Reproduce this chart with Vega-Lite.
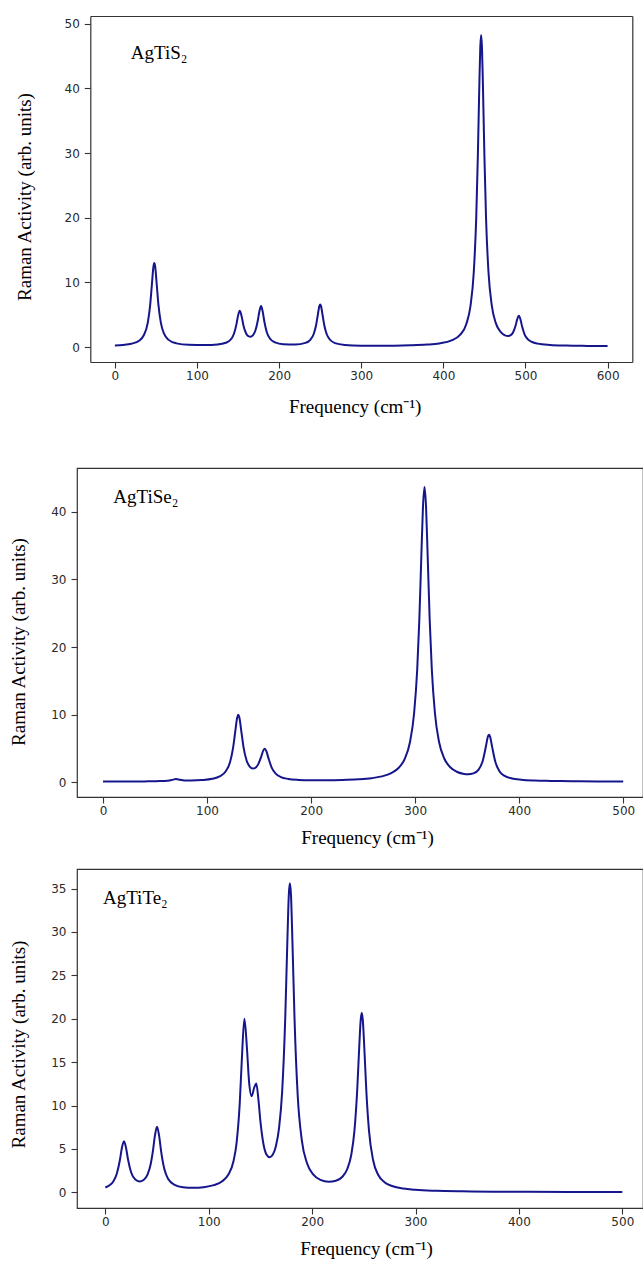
{
  "$schema": "https://vega.github.io/schema/vega-lite/v6.json",
  "background": "white",
  "padding": {"left": 8, "top": 16, "right": 0, "bottom": 0},
  "config": {
    "view": {"stroke": "#333333", "strokeWidth": 1.2},
    "axis": {
      "domain": false, "grid": false,
      "tickColor": "#333333", "tickSize": 6, "tickWidth": 1.1,
      "labelFont": "DejaVu Sans", "labelFontSize": 12, "labelColor": "#2a2a2a", "labelFlush": false,
      "titleFont": "Liberation Serif", "titleFontSize": 19, "titleFontWeight": "normal", "titleColor": "#000000"
    },
    "axisX": {"labelPadding": 2},
    "axisY": {"labelPadding": 5}
  },
  "datasets": {
    "s": [
      {"x":0,"y":0.26},{"x":10,"y":0.34},{"x":20,"y":0.52},{"x":30,"y":1.04},{"x":35,"y":1.79},{"x":40,"y":3.74},{"x":43,"y":6.57},{"x":45,"y":9.6},{"x":47,"y":12.52},{"x":48,"y":13.02},{"x":49,"y":12.52},{"x":51,"y":9.6},{"x":53,"y":6.57},{"x":56,"y":3.75},{"x":60,"y":2.03},{"x":65,"y":1.16},{"x":75,"y":0.58},{"x":90,"y":0.35},{"x":110,"y":0.31},{"x":125,"y":0.4},{"x":135,"y":0.67},{"x":140,"y":1.04},{"x":145,"y":2.07},{"x":148,"y":3.52},{"x":150,"y":4.87},{"x":152,"y":5.62},{"x":154,"y":4.94},{"x":157,"y":3.11},{"x":160,"y":2.06},{"x":163,"y":1.66},{"x":165,"y":1.61},{"x":168,"y":1.83},{"x":171,"y":2.53},{"x":174,"y":4.08},{"x":176,"y":5.55},{"x":178,"y":6.35},{"x":180,"y":5.49},{"x":182,"y":3.96},{"x":185,"y":2.31},{"x":189,"y":1.29},{"x":195,"y":0.73},{"x":205,"y":0.46},{"x":220,"y":0.42},{"x":232,"y":0.66},{"x":238,"y":1.14},{"x":242,"y":1.99},{"x":245,"y":3.39},{"x":247,"y":4.89},{"x":249,"y":6.34},{"x":250,"y":6.59},{"x":251,"y":6.34},{"x":253,"y":4.89},{"x":255,"y":3.39},{"x":258,"y":1.99},{"x":262,"y":1.14},{"x":268,"y":0.62},{"x":280,"y":0.34},{"x":300,"y":0.23},{"x":320,"y":0.22},{"x":340,"y":0.23},{"x":360,"y":0.28},{"x":380,"y":0.39},{"x":395,"y":0.57},{"x":410,"y":1.03},{"x":420,"y":1.84},{"x":428,"y":3.57},{"x":433,"y":6.33},{"x":437,"y":11.5},{"x":440,"y":19.87},{"x":442,"y":29.5},{"x":444,"y":41.6},{"x":445,"y":46.4},{"x":446,"y":48.25},{"x":447,"y":46.4},{"x":448,"y":41.6},{"x":450,"y":29.5},{"x":452,"y":19.88},{"x":455,"y":11.54},{"x":459,"y":6.42},{"x":464,"y":3.68},{"x":470,"y":2.31},{"x":475,"y":1.82},{"x":479,"y":1.72},{"x":482,"y":1.85},{"x":485,"y":2.3},{"x":488,"y":3.33},{"x":490,"y":4.33},{"x":492,"y":4.86},{"x":494,"y":4.24},{"x":496,"y":3.14},{"x":499,"y":1.94},{"x":503,"y":1.19},{"x":508,"y":0.79},{"x":515,"y":0.54},{"x":530,"y":0.34},{"x":550,"y":0.24},{"x":575,"y":0.19},{"x":600,"y":0.16}
    ],
    "se": [
      {"x":0,"y":0.08},{"x":20,"y":0.09},{"x":40,"y":0.11},{"x":55,"y":0.15},{"x":62,"y":0.22},{"x":66,"y":0.32},{"x":70,"y":0.45},{"x":74,"y":0.35},{"x":78,"y":0.26},{"x":85,"y":0.24},{"x":95,"y":0.31},{"x":105,"y":0.5},{"x":112,"y":0.84},{"x":118,"y":1.61},{"x":122,"y":2.92},{"x":125,"y":5.07},{"x":127,"y":7.36},{"x":129,"y":9.57},{"x":130,"y":9.96},{"x":131,"y":9.6},{"x":133,"y":7.45},{"x":135,"y":5.22},{"x":138,"y":3.21},{"x":141,"y":2.31},{"x":144,"y":2.02},{"x":146,"y":2.08},{"x":149,"y":2.59},{"x":152,"y":3.75},{"x":154,"y":4.66},{"x":155.5,"y":4.93},{"x":157,"y":4.58},{"x":159,"y":3.56},{"x":162,"y":2.2},{"x":166,"y":1.25},{"x":171,"y":0.75},{"x":178,"y":0.48},{"x":188,"y":0.33},{"x":200,"y":0.27},{"x":215,"y":0.27},{"x":230,"y":0.31},{"x":245,"y":0.41},{"x":258,"y":0.58},{"x":268,"y":0.85},{"x":277,"y":1.33},{"x":284,"y":2.09},{"x":290,"y":3.45},{"x":295,"y":5.91},{"x":299,"y":10.2},{"x":302,"y":16.71},{"x":304,"y":23.94},{"x":306,"y":33.68},{"x":307.5,"y":40.66},{"x":309,"y":43.69},{"x":310.5,"y":40.67},{"x":312,"y":33.7},{"x":314,"y":23.97},{"x":316,"y":16.74},{"x":319,"y":10.23},{"x":323,"y":5.95},{"x":328,"y":3.5},{"x":334,"y":2.17},{"x":340,"y":1.54},{"x":346,"y":1.24},{"x":351,"y":1.16},{"x":356,"y":1.29},{"x":361,"y":1.85},{"x":365,"y":3.17},{"x":368,"y":5.28},{"x":370,"y":6.76},{"x":371,"y":7.0},{"x":372,"y":6.74},{"x":374,"y":5.22},{"x":377,"y":3.04},{"x":381,"y":1.62},{"x":386,"y":0.92},{"x":393,"y":0.55},{"x":402,"y":0.36},{"x":415,"y":0.24},{"x":430,"y":0.18},{"x":450,"y":0.13},{"x":475,"y":0.1},{"x":500,"y":0.09}
    ],
    "te": [
      {"x":0,"y":0.56},{"x":4,"y":0.81},{"x":8,"y":1.32},{"x":11,"y":2.12},{"x":14,"y":3.67},{"x":16,"y":5.11},{"x":18,"y":5.9},{"x":20,"y":5.15},{"x":22,"y":3.76},{"x":25,"y":2.29},{"x":29,"y":1.47},{"x":33,"y":1.26},{"x":37,"y":1.43},{"x":41,"y":2.1},{"x":44,"y":3.32},{"x":46,"y":4.75},{"x":48,"y":6.56},{"x":50,"y":7.55},{"x":52,"y":6.53},{"x":54,"y":4.7},{"x":57,"y":2.72},{"x":61,"y":1.5},{"x":67,"y":0.86},{"x":75,"y":0.59},{"x":85,"y":0.53},{"x":95,"y":0.6},{"x":105,"y":0.83},{"x":113,"y":1.28},{"x":119,"y":2.05},{"x":124,"y":3.62},{"x":127,"y":5.77},{"x":130,"y":10.27},{"x":132,"y":15.28},{"x":134.5,"y":20.0},{"x":137,"y":16.52},{"x":139,"y":12.76},{"x":141.5,"y":11.09},{"x":144,"y":12.08},{"x":146,"y":12.53},{"x":148,"y":10.78},{"x":150,"y":8.17},{"x":153,"y":5.52},{"x":156,"y":4.34},{"x":159,"y":4.04},{"x":162,"y":4.35},{"x":165,"y":5.35},{"x":168,"y":7.4},{"x":171,"y":11.58},{"x":174,"y":20.09},{"x":176,"y":28.74},{"x":177.5,"y":34.4},{"x":178.5,"y":35.6},{"x":179.5,"y":34.38},{"x":181,"y":28.67},{"x":183,"y":19.93},{"x":186,"y":11.28},{"x":190,"y":6.02},{"x":195,"y":3.38},{"x":201,"y":2.08},{"x":208,"y":1.45},{"x":216,"y":1.23},{"x":223,"y":1.34},{"x":229,"y":1.77},{"x":234,"y":2.69},{"x":238,"y":4.42},{"x":241,"y":7.2},{"x":243.5,"y":11.56},{"x":245.5,"y":16.6},{"x":247,"y":19.89},{"x":248,"y":20.66},{"x":249,"y":19.87},{"x":250.5,"y":16.57},{"x":252.5,"y":11.51},{"x":255,"y":7.12},{"x":259,"y":3.7},{"x":264,"y":2.0},{"x":270,"y":1.17},{"x":278,"y":0.7},{"x":288,"y":0.44},{"x":300,"y":0.29},{"x":320,"y":0.18},{"x":345,"y":0.12},{"x":375,"y":0.085},{"x":410,"y":0.063},{"x":450,"y":0.05},{"x":500,"y":0.042}
    ]
  },
  "columns": 1,
  "align": "none",
  "spacing": 51,
  "concat": [
    {
      "width": 555.3, "height": 346,
      "view": {"stroke": null},
      "resolve": {"axis": {"x": "independent", "y": "independent"}},
      "layer": [
        {
          "data": {"name": "s"},
          "mark": {"type": "line", "interpolate": "monotone", "color": "#16168c", "strokeWidth": 2},
          "encoding": {
            "x": {"field": "x", "type": "quantitative", "scale": {"domain": [-46.15, 630.1], "nice": false, "zero": false},
                  "axis": {"orient": "bottom", "values": [0,100,200,300,400,500,600], "format": "d", "title": "Frequency (cm⁻¹)", "titlePadding": 16,
                           "domain": true, "domainColor": "#333333", "domainWidth": 1.2, "domainDash": [0, 13.3, 2000, 0]}},
            "y": {"field": "y", "type": "quantitative", "scale": {"domain": [-2.3, 51.2], "nice": false, "zero": false},
                  "axis": {"orient": "left", "values": [0,10,20,30,40,50], "format": "d", "title": "Raman Activity (arb. units)", "titlePadding": 29.7, "titleY": 180.5,
                           "offset": -13.3, "domain": true, "domainColor": "#333333", "domainWidth": 1.2}}
          }
        },
        {
          "data": {"values": [{"x": 19.4, "y": 44.6, "label": "AgTiS₂"}]},
          "mark": {"type": "text", "align": "left", "baseline": "alphabetic", "font": "Liberation Serif", "fontSize": 19, "color": "#000000"},
          "encoding": {
            "x": {"field": "x", "type": "quantitative",
                  "axis": {"orient": "top", "title": null, "labels": false, "ticks": false, "domain": true, "domainColor": "#333333", "domainWidth": 1.2, "domainDash": [0, 13.3, 2000, 0]}},
            "y": {"field": "y", "type": "quantitative",
                  "axis": {"orient": "right", "title": null, "labels": false, "ticks": false, "domain": true, "domainColor": "#333333", "domainWidth": 1.2}},
            "text": {"field": "label"}
          }
        }
      ]
    },
    {
      "columns": 1,
      "align": "none",
      "spacing": 19,
      "concat": [
        {
          "width": 566, "height": 329,
          "layer": [
            {
              "data": {"name": "se"},
              "mark": {"type": "line", "interpolate": "monotone", "color": "#16168c", "strokeWidth": 2},
              "encoding": {
                "x": {"field": "x", "type": "quantitative", "scale": {"domain": [-25, 519], "nice": false, "zero": false},
                      "axis": {"values": [0,100,200,300,400,500], "format": "d", "title": "Frequency (cm⁻¹)", "titlePadding": 12.5, "titleX": 290}},
                "y": {"field": "y", "type": "quantitative", "scale": {"domain": [-2.2, 46.5], "nice": false, "zero": false},
                      "axis": {"values": [0,10,20,30,40], "format": "d", "title": "Raman Activity (arb. units)", "titlePadding": 22.4, "titleY": 173.5}}
              }
            },
            {
              "data": {"values": [{"x": 9.9, "y": 41.3, "label": "AgTiSe₂"}]},
              "mark": {"type": "text", "align": "left", "baseline": "alphabetic", "font": "Liberation Serif", "fontSize": 19, "color": "#000000"},
              "encoding": {
                "x": {"field": "x", "type": "quantitative"},
                "y": {"field": "y", "type": "quantitative"},
                "text": {"field": "label"}
              }
            }
          ]
        },
        {
          "width": 566, "height": 339,
          "layer": [
            {
              "data": {"name": "te"},
              "mark": {"type": "line", "interpolate": "monotone", "color": "#16168c", "strokeWidth": 2},
              "encoding": {
                "x": {"field": "x", "type": "quantitative", "scale": {"domain": [-27.4, 520], "nice": false, "zero": false},
                      "axis": {"values": [0,100,200,300,400,500], "format": "d", "title": "Frequency (cm⁻¹)", "titlePadding": 12, "titleX": 289}},
                "y": {"field": "y", "type": "quantitative", "scale": {"domain": [-1.8, 37.25], "nice": false, "zero": false},
                      "axis": {"values": [0,5,10,15,20,25,30,35], "format": "d", "title": "Raman Activity (arb. units)", "titlePadding": 22.4, "titleY": 175}}
              }
            },
            {
              "data": {"values": [{"x": -2.3, "y": 33.2, "label": "AgTiTe₂"}]},
              "mark": {"type": "text", "align": "left", "baseline": "alphabetic", "font": "Liberation Serif", "fontSize": 19, "color": "#000000"},
              "encoding": {
                "x": {"field": "x", "type": "quantitative"},
                "y": {"field": "y", "type": "quantitative"},
                "text": {"field": "label"}
              }
            }
          ]
        }
      ]
    }
  ]
}
